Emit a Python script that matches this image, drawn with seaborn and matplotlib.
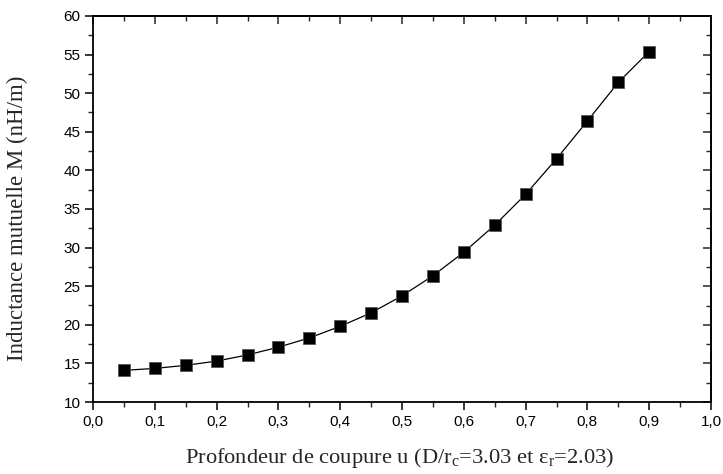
import matplotlib
matplotlib.use("Agg")
import matplotlib.pyplot as plt
import seaborn as sns
import pandas as pd
from matplotlib.ticker import MultipleLocator, FuncFormatter

depth = [0.05, 0.10, 0.15, 0.20, 0.25, 0.30, 0.35, 0.40, 0.45,
         0.50, 0.55, 0.60, 0.65, 0.70, 0.75, 0.80, 0.85, 0.90]
inductance = [14.1, 14.35, 14.75, 15.3, 16.1, 17.1, 18.3, 19.8, 21.55,
              23.75, 26.35, 29.4, 32.9, 36.9, 41.5, 46.4, 51.4, 55.4]

df = pd.DataFrame({"u": depth, "M": inductance})

sns.set_style("ticks")
plt.rcParams["font.family"] = ["Liberation Sans", "DejaVu Sans"]
plt.rcParams["mathtext.fontset"] = "custom"
plt.rcParams["mathtext.rm"] = "Liberation Serif"
plt.rcParams["mathtext.it"] = "Liberation Serif:italic"

fig = plt.figure(figsize=(7.23, 4.74), dpi=100)
ax = fig.add_axes([93/723, 1 - 402/474, (711 - 93)/723, (402 - 16)/474])

sns.lineplot(data=df, x="u", y="M", ax=ax, color="black", linewidth=0.9,
             marker="s", markersize=8, markerfacecolor="black",
             markeredgecolor="#555555", markeredgewidth=0.6)

ax.set_xlim(0.0, 1.0)
ax.set_ylim(10, 60)
ax.xaxis.set_major_locator(MultipleLocator(0.1))
ax.xaxis.set_minor_locator(MultipleLocator(0.05))
ax.yaxis.set_major_locator(MultipleLocator(5))
ax.yaxis.set_minor_locator(MultipleLocator(2.5))
ax.xaxis.set_major_formatter(FuncFormatter(lambda v, p: f"{v:.1f}".replace(".", ",")))
ax.yaxis.set_major_formatter(FuncFormatter(lambda v, p: f"{v:.0f}"))

for s in ax.spines.values():
    s.set_visible(True)
    s.set_linewidth(1.3)
    s.set_color("black")

ax.tick_params(which="major", direction="out", length=6, width=1.1, labelsize=11,
               colors="black", pad=3)
ax.tick_params(which="minor", direction="out", length=3.5, width=1.0)

top = ax.secondary_xaxis("top")
top.xaxis.set_major_locator(MultipleLocator(0.1))
top.xaxis.set_minor_locator(MultipleLocator(0.05))
top.tick_params(which="major", direction="in", length=6, width=1.1, labeltop=False)
top.tick_params(which="minor", direction="in", length=3.5, width=1.0)
top.spines["top"].set_linewidth(1.3)

right = ax.secondary_yaxis("right")
right.yaxis.set_major_locator(MultipleLocator(5))
right.yaxis.set_minor_locator(MultipleLocator(2.5))
right.tick_params(which="major", direction="in", length=6, width=1.1, labelright=False)
right.tick_params(which="minor", direction="in", length=3.5, width=1.0)
right.spines["right"].set_linewidth(1.3)

serif = ["Liberation Serif", "DejaVu Serif"]
ax.set_xlabel("Profondeur de coupure u (D/r$_\\mathregular{c}$=3.03 et ε$_\\mathregular{r}$=2.03)",
              fontsize=16.2, family=serif)
ax.set_ylabel("Inductance mutuelle M (nH/m)", fontsize=16.5, family=serif)
ax.xaxis.set_label_coords(0.497, -0.113)
ax.yaxis.set_label_coords(-0.105, 0.475)

fig.savefig("out.png", dpi=100)
